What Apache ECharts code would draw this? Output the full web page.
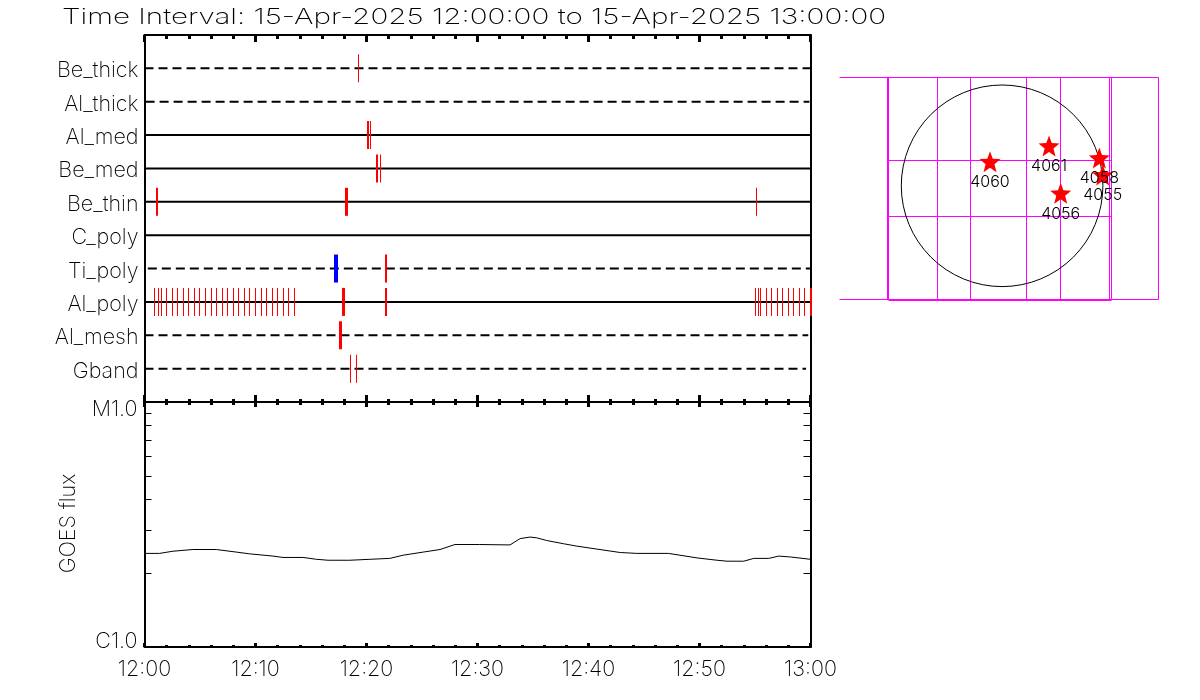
<!DOCTYPE html>
<html>
<head>
<meta charset="utf-8">
<title>Flare catalog timeline</title>
<script src="https://cdn.jsdelivr.net/npm/echarts@6/dist/echarts.min.js"></script>
<style>
html, body { margin: 0; padding: 0; background: #fff; }
#main { width: 1200px; height: 700px; }
</style>
</head>
<body>
<div id="main"></div>
<script>
var filters = ['', 'Be_thick', 'Al_thick', 'Al_med', 'Be_med', 'Be_thin', 'C_poly', 'Ti_poly', 'Al_poly', 'Al_mesh', 'Gband', ''];
var dashedRows = ['Be_thick', 'Al_thick', 'Ti_poly', 'Al_mesh', 'Gband'];
var solidRows = ['Al_med', 'Be_med', 'Be_thin', 'C_poly', 'Al_poly'];
// minutes after 12:00, start and end of the row's coverage
var rowSpan = {
    Be_thick: [0, 60], Al_thick: [0.1, 59.9], Al_med: [0, 60], Be_med: [0, 60], Be_thin: [0, 60],
    C_poly: [0, 60], Ti_poly: [0.3, 60], Al_poly: [0, 60], Al_mesh: [0, 59.8], Gband: [0, 59.6]
};

// [filter, start minute, end minute]
var redEvents = [
    ['Be_thick', 19.22, 19.3],
    ['Al_med', 20.0, 20.2], ['Al_med', 20.3, 20.38],
    ['Be_med', 20.9, 21.08], ['Be_med', 21.2, 21.28],
    ['Be_thin', 1.0, 1.18], ['Be_thin', 18.08, 18.35], ['Be_thin', 55.12, 55.2],
    ['Ti_poly', 21.7, 21.88],
    ['Al_poly', 0.9, 0.98], ['Al_poly', 1.2, 1.28], ['Al_poly', 1.47, 1.55], ['Al_poly', 1.92, 2.0],
    ['Al_poly', 2.46, 2.54], ['Al_poly', 2.91, 2.99], ['Al_poly', 3.45, 3.53], ['Al_poly', 3.9, 3.98],
    ['Al_poly', 4.44, 4.52], ['Al_poly', 4.89, 4.97], ['Al_poly', 5.43, 5.51], ['Al_poly', 5.97, 6.05],
    ['Al_poly', 6.42, 6.5], ['Al_poly', 6.96, 7.04], ['Al_poly', 7.41, 7.49], ['Al_poly', 7.95, 8.03],
    ['Al_poly', 8.4, 8.48], ['Al_poly', 8.94, 9.02], ['Al_poly', 9.39, 9.47], ['Al_poly', 9.93, 10.01],
    ['Al_poly', 10.47, 10.55], ['Al_poly', 10.92, 11.0], ['Al_poly', 11.46, 11.54], ['Al_poly', 11.91, 11.99],
    ['Al_poly', 12.45, 12.53], ['Al_poly', 12.9, 12.98], ['Al_poly', 13.44, 13.52],
    ['Al_poly', 17.8, 18.07], ['Al_poly', 21.7, 21.88],
    ['Al_poly', 55.03, 55.11], ['Al_poly', 55.3, 55.38], ['Al_poly', 55.48, 55.56], ['Al_poly', 56.02, 56.1],
    ['Al_poly', 56.47, 56.55], ['Al_poly', 57.01, 57.09], ['Al_poly', 57.46, 57.54], ['Al_poly', 58.0, 58.08],
    ['Al_poly', 58.45, 58.53], ['Al_poly', 58.99, 59.07], ['Al_poly', 59.44, 59.52], ['Al_poly', 59.92, 60.08],
    ['Al_mesh', 17.5, 17.77],
    ['Gband', 18.5, 18.58], ['Gband', 19.04, 19.12]
];
var blueEvents = [
    ['Ti_poly', 17.05, 17.41]
];

var goesMinutes = [0, 1.35, 2.56, 4.36, 6.47, 8.27, 9.47, 11.58, 12.48, 14.29, 15.49, 16.54, 18.5, 20.3, 22.1, 23.31, 25.11, 26.62, 27.97, 30.2, 32.93, 33.84, 34.74, 35.34, 36.24, 37.74, 38.95, 40.76, 42.86, 44.36, 47.2, 49.78, 51.58, 52.48, 53.99, 54.89, 56.24, 57.14, 58.2, 60];
var goesFlux = [2.41e-6, 2.41e-6, 2.46e-6, 2.5e-6, 2.5e-6, 2.44e-6, 2.4e-6, 2.35e-6, 2.32e-6, 2.32e-6, 2.28e-6, 2.26e-6, 2.26e-6, 2.28e-6, 2.3e-6, 2.37e-6, 2.44e-6, 2.5e-6, 2.62e-6, 2.62e-6, 2.61e-6, 2.77e-6, 2.81e-6, 2.79e-6, 2.72e-6, 2.64e-6, 2.58e-6, 2.51e-6, 2.43e-6, 2.41e-6, 2.41e-6, 2.31e-6, 2.26e-6, 2.24e-6, 2.24e-6, 2.3e-6, 2.3e-6, 2.35e-6, 2.33e-6, 2.28e-6];
var fluxTicks = [2e-6, 3e-6, 4e-6, 5e-6, 6e-6, 7e-6, 8e-6, 9e-6];

// solar map, arcsec from disk centre
var sunRadius = 960;
var mapVertical = [-1083, -623, -303, 231, 554, 1021, 1041];
var mapHorizontal = [243, -290];
var mapOuterX = [-1554, 1488];
var mapOuterY = [1033, -1081];
var regionNames = ['4060', '4061', '4058', '4055', '4056'];
var regionX = [-115, 447, 926, 958, 558];
var regionY = [230, 379, 265, 103, -71];

var starPath = 'path://M50 0 L63 34 L100 36 L71 59 L81 95 L50 75 L19 95 L29 59 L0 36 L37 34 Z';
var titleText = 'Time Interval: 15-Apr-2025 12:00:00 to 15-Apr-2025 13:00:00';
var textFont = 'Inter';
var textWeight = 200;
var textColor = '#000';

var timeLabel = function (m) {
    return m === 60 ? '13:00' : '12:' + (m < 10 ? '0' + m : m);
};

var timeAxis = function (gridIndex, position, showLabel, tickLen, minorLen) {
    return {
        type: 'value', gridIndex: gridIndex, position: position, min: 0, max: 60, interval: 10,
        axisLine: { show: true, onZero: false, lineStyle: { color: '#000', width: 2 } },
        axisTick: { show: true, inside: true, length: tickLen, lineStyle: { color: '#000', width: 3 } },
        minorTick: { show: true, splitNumber: 5, length: minorLen, lineStyle: { color: '#000', width: 3 } },
        splitLine: { show: false },
        axisLabel: {
            show: showLabel, formatter: timeLabel, fontFamily: textFont, fontWeight: textWeight,
            fontSize: 21.5, color: textColor, margin: 12, hideOverlap: false
        }
    };
};

var eventSeries = function (name, color, events) {
    return {
        name: name, type: 'custom', xAxisIndex: 0, yAxisIndex: 0, z: 5, silent: true,
        data: events.map(function (e) { return [e[1], filters.indexOf(e[0]), e[2]]; }),
        encode: { x: [0, 2], y: 1 },
        renderItem: function (params, api) {
            var a = api.coord([api.value(0), api.value(1)]);
            var b = api.coord([api.value(2), api.value(1)]);
            return {
                type: 'rect',
                shape: { x: Math.round(a[0]), y: a[1] - 14, width: Math.max(1, Math.round(b[0] - a[0])), height: 28 },
                style: { fill: color }
            };
        }
    };
};

var rowSeries = function (row, dashed) {
    return {
        name: row, type: 'line', xAxisIndex: 0, yAxisIndex: 0, symbol: 'none', silent: true, z: 3,
        data: [[rowSpan[row][0], row], [rowSpan[row][1], row]],
        lineStyle: { color: '#000', width: 2, type: dashed ? [9, 5] : 'solid' }
    };
};

var segmentSeries = function (name, segments) {
    return {
        name: name, type: 'custom', xAxisIndex: 4, yAxisIndex: 4, z: 2, silent: true, clip: false,
        data: segments,
        renderItem: function (params, api) {
            var a = api.coord([api.value(0), api.value(1)]);
            var b = api.coord([api.value(2), api.value(3)]);
            return {
                type: 'line',
                shape: { x1: Math.round(a[0]) + 0.5, y1: Math.round(a[1]) + 0.5, x2: Math.round(b[0]) + 0.5, y2: Math.round(b[1]) + 0.5 },
                style: { stroke: '#ff00ff', lineWidth: 1 }
            };
        }
    };
};

var mapSegments = [];
mapVertical.concat([mapOuterX[1]]).forEach(function (x) { mapSegments.push([x, mapOuterY[0], x, mapOuterY[1]]); });
mapHorizontal.forEach(function (y) { mapSegments.push([mapVertical[0], y, mapVertical[6], y]); });
mapOuterY.forEach(function (y) { mapSegments.push([mapOuterX[0], y, mapOuterX[1], y]); });
// the thick left and bottom edge of the inner tile
mapSegments.push([mapVertical[0] - 10, mapOuterY[0], mapVertical[0] - 10, mapOuterY[1]]);
mapSegments.push([mapVertical[0], mapOuterY[1] - 10, mapVertical[6], mapOuterY[1] - 10]);

var hiddenAxis = function (gridIndex, min, max) {
    return { type: 'value', gridIndex: gridIndex, min: min, max: max, show: false, splitLine: { show: false } };
};

var option = {
    animation: false,
    backgroundColor: '#fff',
    // the original lettering is wide, so the title is stretched sideways
    graphic: [{
        type: 'text', x: 62, y: 6, scaleX: 1.345, silent: true,
        style: { text: titleText, fontFamily: textFont, fontWeight: textWeight, fontSize: 22, fill: textColor }
    }],
    grid: [
        { left: 144.5, top: 35, width: 666, height: 367 },
        { left: 144.5, top: 402, width: 666, height: 245 },
        { left: 830, top: 70, width: 340, height: 240 }
    ],
    xAxis: [
        timeAxis(0, 'top', false, 7, 4),
        timeAxis(0, 'bottom', false, 7, 3),
        timeAxis(1, 'top', false, 5, 3),
        timeAxis(1, 'bottom', true, 4, 2),
        hiddenAxis(2, -1639, 1599)
    ],
    yAxis: [
        {
            type: 'category', gridIndex: 0, position: 'left', data: filters, inverse: true, boundaryGap: false,
            axisLine: { show: true, onZero: false, lineStyle: { color: '#000', width: 2 } },
            axisTick: { show: false },
            axisLabel: {
                margin: 6, interval: 0,
                formatter: function (v) { return v ? '{a|' + v + '}' : ''; },
                rich: { a: { fontFamily: textFont, fontWeight: textWeight, fontSize: 21.5, color: textColor, padding: [5, 0, 0, 0] } }
            }
        },
        {
            type: 'category', gridIndex: 0, position: 'right', data: filters, inverse: true, boundaryGap: false,
            axisLine: { show: true, onZero: false, lineStyle: { color: '#000', width: 2 } },
            axisTick: { show: false }, axisLabel: { show: false }
        },
        {
            type: 'log', gridIndex: 1, position: 'left', min: 1e-6, max: 1e-5, logBase: 10,
            name: 'GOES flux', nameLocation: 'middle', nameRotate: 90, nameGap: 65,
            nameTextStyle: { fontFamily: textFont, fontWeight: textWeight, fontSize: 21.5, color: textColor, padding: [0, 0, 0, 2] },
            axisLine: { show: true, onZero: false, lineStyle: { color: '#000', width: 2 } },
            axisTick: { show: true, inside: true, length: 7, customValues: fluxTicks, lineStyle: { color: '#000', width: 1 } },
            minorTick: { show: false },
            splitLine: { show: false },
            axisLabel: {
                fontFamily: textFont, fontWeight: textWeight, fontSize: 21.5, color: textColor, margin: 7,
                customValues: [1e-6, 1e-5],
                formatter: function (v) { return v < 5e-6 ? '{c|C1.0}' : '{m|M1.0}'; },
                rich: {
                    c: { fontFamily: textFont, fontWeight: textWeight, fontSize: 21.5, color: textColor, padding: [0, 0, 10, 0] },
                    m: { fontFamily: textFont, fontWeight: textWeight, fontSize: 21.5, color: textColor, padding: [16, 0, 0, 0] }
                }
            }
        },
        {
            type: 'log', gridIndex: 1, position: 'right', min: 1e-6, max: 1e-5, logBase: 10,
            axisLine: { show: true, onZero: false, lineStyle: { color: '#000', width: 2 } },
            axisTick: { show: true, inside: true, length: 7, customValues: fluxTicks, lineStyle: { color: '#000', width: 1 } },
            splitLine: { show: false }, axisLabel: { show: false }
        },
        hiddenAxis(2, -1183, 1103)
    ],
    series: dashedRows.map(function (r) { return rowSeries(r, true); })
        .concat(solidRows.map(function (r) { return rowSeries(r, false); }))
        .concat([
            eventSeries('red events', '#ff0000', redEvents),
            eventSeries('blue events', '#0000ff', blueEvents),
            {
                name: 'GOES', type: 'line', xAxisIndex: 3, yAxisIndex: 2, symbol: 'none', silent: true, z: 3,
                data: goesMinutes.map(function (m, i) { return [m, goesFlux[i]]; }),
                lineStyle: { color: '#000', width: 1 }
            },
            segmentSeries('map grid', mapSegments),
            {
                name: 'disk', type: 'custom', xAxisIndex: 4, yAxisIndex: 4, z: 3, silent: true,
                data: [[0, 0, sunRadius]],
                renderItem: function (params, api) {
                    var c = api.coord([api.value(0), api.value(1)]);
                    var s = api.size([api.value(2), api.value(2)]);
                    return {
                        type: 'circle',
                        shape: { cx: c[0], cy: c[1], r: s[0] },
                        style: { fill: 'none', stroke: '#000', lineWidth: 1 }
                    };
                }
            },
            {
                name: 'regions', type: 'scatter', xAxisIndex: 4, yAxisIndex: 4, z: 4, silent: true,
                symbol: starPath, symbolSize: 21,
                itemStyle: { color: '#ff0000', opacity: 1 },
                data: regionNames.map(function (n, i) { return { name: n, value: [regionX[i], regionY[i]] }; }),
                label: {
                    show: true, position: 'bottom', distance: 2, formatter: '{b}',
                    fontFamily: textFont, fontWeight: 300, fontSize: 16, color: textColor
                },
                labelLayout: { hideOverlap: false }
            }
        ])
};

var myChart = echarts.init(document.getElementById('main'));
myChart.setOption(option);
</script>
</body>
</html>
